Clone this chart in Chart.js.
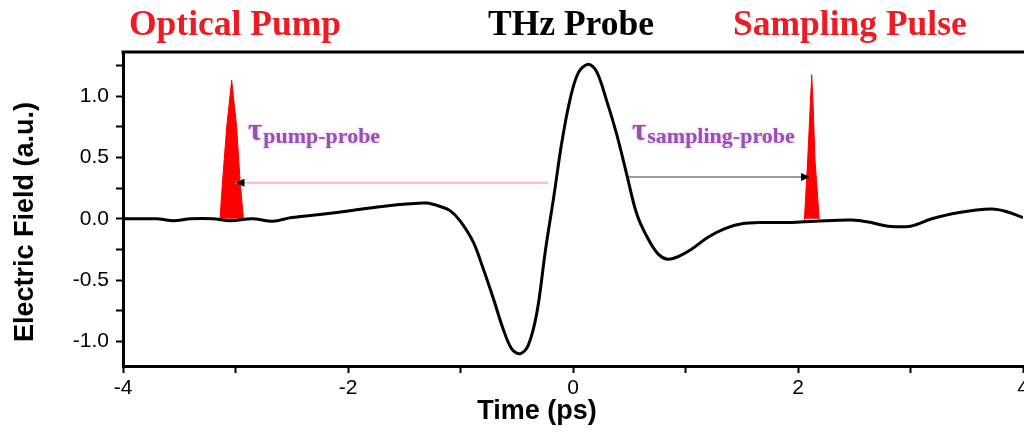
<!DOCTYPE html>
<html>
<head>
<meta charset="utf-8">
<script src="https://cdn.jsdelivr.net/npm/chart.js@4.4.1/dist/chart.umd.min.js"></script>
<style>
  html, body { margin: 0; padding: 0; background: #fff; }
  #wrap { width: 1024px; height: 432px; }
</style>
</head>
<body>
<div id="wrap"><canvas id="thz" width="1024" height="432"></canvas></div>
<script>
// THz probe waveform: time (ps) vs field (a.u.)
const TIME = [-4.0, -3.7, -3.55, -3.4, -3.2, -3.05, -2.85, -2.67, -2.5, -2.25,
  -1.95, -1.66, -1.45, -1.3, -1.18, -1.09, -1.0, -0.886, -0.797, -0.708,
  -0.62, -0.545, -0.47, -0.397, -0.32, -0.244, -0.17, -0.10, -0.027, 0.047,
  0.136, 0.21, 0.297, 0.385, 0.474, 0.55, 0.6, 0.684, 0.76, 0.84,
  0.93, 1.05, 1.2, 1.35, 1.5, 1.7, 1.94, 2.15, 2.48, 2.65, 2.8,
  3.0, 3.19, 3.42, 3.72, 3.85, 4.0];
const FIELD = [0.0, 0.0, -0.015, 0.0, 0.0, -0.015, 0.0, -0.02, 0.01, 0.035,
  0.07, 0.105, 0.122, 0.128, 0.1, 0.065, -0.02, -0.19, -0.41, -0.65,
  -0.9, -1.06, -1.1, -1.03, -0.76, -0.25, 0.185, 0.62, 0.97, 1.19,
  1.26, 1.2, 0.97, 0.7, 0.375, 0.09, -0.04, -0.19, -0.29, -0.33,
  -0.31, -0.25, -0.15, -0.08, -0.04, -0.03, -0.03, -0.02, -0.01, -0.03, -0.06,
  -0.06, 0.0, 0.05, 0.08, 0.06, 0.01];

// optical pump pulse outline
const PUMP_T = [-3.138, -3.114, -3.078, -3.034, -2.99, -2.96, -2.93];
const PUMP_V = [0, 0.32, 0.75, 1.13, 0.75, 0.32, 0];

// sampling pulse outline
const SAMPLE_T = [2.056, 2.086, 2.107, 2.122, 2.136, 2.151, 2.19];
const SAMPLE_V = [-0.02, 0.48, 0.89, 1.175, 0.89, 0.48, -0.02];

// delay arrows [start, tip] in ps, each at a fixed field level
const PUMP_DELAY_T = [-0.22, -3.0];
const PUMP_DELAY_V = 0.295;
const SAMPLE_DELAY_T = [0.477, 2.107];
const SAMPLE_DELAY_V = 0.34;

const X_TICKS  = [-4, -3, -2, -1, 0, 1, 2, 3, 4];
const X_LABELS = ['-4', '', '-2', '', '0', '', '2', '', '4'];
const Y_TICKS  = [-1, -0.75, -0.5, -0.25, 0, 0.25, 0.5, 0.75, 1, 1.25];
const Y_LABELS = ['-1.0', '', '-0.5', '', '0.0', '', '0.5', '', '1.0', ''];

const HEADERS = [
  { text: 'Optical Pump',   x: 129, color: '#ed1c24' },
  { text: 'THz Probe',      x: 488, color: '#000000' },
  { text: 'Sampling Pulse', x: 733, color: '#ed1c24' },
];

// tau labels anchored in data coordinates (baseline of the tau)
const TAU_LABELS = [
  { sub: 'pump-probe',     t: -2.89, v: 0.645 },
  { sub: 'sampling-probe', t: 0.524, v: 0.645 },
];

const SANS  = "'Liberation Sans', Arial, sans-serif";
const SERIF = "'Liberation Serif', 'Times New Roman', serif";

const toXY = (ts, vs) => ts.map((t, i) => ({ x: t, y: vs[i] }));

function arrowHead(ctx, x0, y0, x1, y1) {
  const a = Math.atan2(y1 - y0, x1 - x0);
  const len = 9, half = 4;
  ctx.save();
  ctx.translate(x1, y1);
  ctx.rotate(a);
  ctx.beginPath();
  ctx.moveTo(0, 0);
  ctx.lineTo(-len, -half);
  ctx.lineTo(-len, half);
  ctx.closePath();
  ctx.fillStyle = '#000';
  ctx.fill();
  ctx.restore();
}

const annotations = {
  id: 'annotations',
  afterDatasetsDraw(chart) {
    const { ctx } = chart;
    const xs = chart.scales.x, ys = chart.scales.y;

    // arrowheads on the two delay lines
    [3, 4].forEach(idx => {
      const [p0, p1] = chart.getDatasetMeta(idx).data;
      arrowHead(ctx, p0.x, p0.y, p1.x, p1.y);
    });

    // tau labels
    ctx.save();
    ctx.fillStyle = '#9b4fb4';
    ctx.shadowColor = 'rgba(190,150,215,0.7)';
    ctx.shadowBlur = 3;
    ctx.textBaseline = 'alphabetic';
    ctx.textAlign = 'left';
    TAU_LABELS.forEach(l => {
      const px = xs.getPixelForValue(l.t);
      const py = ys.getPixelForValue(l.v);
      ctx.font = `bold 31px ${SERIF}`;
      ctx.fillText('τ', px, py);
      const w = ctx.measureText('τ').width;
      ctx.font = `bold 22px ${SERIF}`;
      ctx.fillText(l.sub, px + w + 1, py + 3);
    });
    ctx.restore();
  },
  afterDraw(chart) {
    const { ctx, chartArea } = chart;
    ctx.save();

    // top frame line
    ctx.strokeStyle = '#000';
    ctx.lineWidth = 3;
    ctx.beginPath();
    ctx.moveTo(chartArea.left - 1.5, chartArea.top);
    ctx.lineTo(chartArea.right + 1, chartArea.top);
    ctx.stroke();

    // headers above the plot
    ctx.font = `bold 35.5px ${SERIF}`;
    ctx.textAlign = 'left';
    ctx.textBaseline = 'alphabetic';
    HEADERS.forEach(h => {
      ctx.fillStyle = h.color;
      ctx.fillText(h.text, h.x, 35);
    });

    // axis titles
    ctx.fillStyle = '#000';
    ctx.font = `bold 27px ${SANS}`;
    ctx.textAlign = 'center';
    ctx.textBaseline = 'middle';
    ctx.fillText('Time (ps)', 537, 412);

    ctx.translate(26, 222);
    ctx.rotate(-Math.PI / 2);
    ctx.fillText('Electric Field (a.u.)', 0, 0);
    ctx.restore();
  }
};

new Chart(document.getElementById('thz'), {
  type: 'line',
  data: {
    datasets: [
      {
        data: toXY(TIME, FIELD),
        borderColor: '#000',
        borderWidth: 3,
        pointRadius: 0,
        tension: 0.35,
        order: 0,
      },
      {
        data: toXY(PUMP_T, PUMP_V),
        borderColor: '#ff0000',
        backgroundColor: '#ff0000',
        borderWidth: 1,
        pointRadius: 0,
        fill: 'origin',
        tension: 0,
        order: 2,
      },
      {
        data: toXY(SAMPLE_T, SAMPLE_V),
        borderColor: '#ff0000',
        backgroundColor: '#ff0000',
        borderWidth: 1,
        pointRadius: 0,
        fill: 'origin',
        tension: 0,
        order: 2,
      },
      {
        data: toXY(PUMP_DELAY_T, PUMP_DELAY_T.map(() => PUMP_DELAY_V)),
        borderColor: '#f7b6cf',
        borderWidth: 2,
        pointRadius: 0,
        tension: 0,
        order: 1,
      },
      {
        data: toXY(SAMPLE_DELAY_T, SAMPLE_DELAY_T.map(() => SAMPLE_DELAY_V)),
        borderColor: '#7a7a7a',
        borderWidth: 1.5,
        pointRadius: 0,
        tension: 0,
        order: 1,
      },
    ]
  },
  options: {
    responsive: false,
    animation: false,
    devicePixelRatio: 1,
    layout: { padding: { top: 52, right: 1, left: 0, bottom: 0 } },
    plugins: {
      legend: { display: false },
      tooltip: { enabled: false },
    },
    scales: {
      x: {
        type: 'linear',
        min: -4, max: 4,
        afterBuildTicks: s => { s.ticks = X_TICKS.map(v => ({ value: v })); },
        afterFit: s => { s.height = 66; s.paddingLeft = 0; s.paddingRight = 0; },
        ticks: {
          autoSkip: false,
          maxRotation: 0,
          padding: 3,
          color: '#000',
          font: { family: SANS, size: 21 },
          callback: (v, i) => X_LABELS[i],
        },
        grid: { drawOnChartArea: false, tickLength: 7, tickWidth: 2, tickColor: '#000' },
        border: { display: true, color: '#000', width: 3 },
      },
      y: {
        min: -1.2, max: 1.36,
        afterBuildTicks: s => { s.ticks = Y_TICKS.map(v => ({ value: v })); },
        afterFit: s => { s.width = 123; s.paddingTop = 0; s.paddingBottom = 0; },
        ticks: {
          padding: 7,
          color: '#000',
          font: { family: SANS, size: 21 },
          callback: (v, i) => Y_LABELS[i],
        },
        grid: { drawOnChartArea: false, tickLength: 7, tickWidth: 2, tickColor: '#000' },
        border: { display: true, color: '#000', width: 3 },
      }
    }
  },
  plugins: [annotations]
});
</script>
</body>
</html>
